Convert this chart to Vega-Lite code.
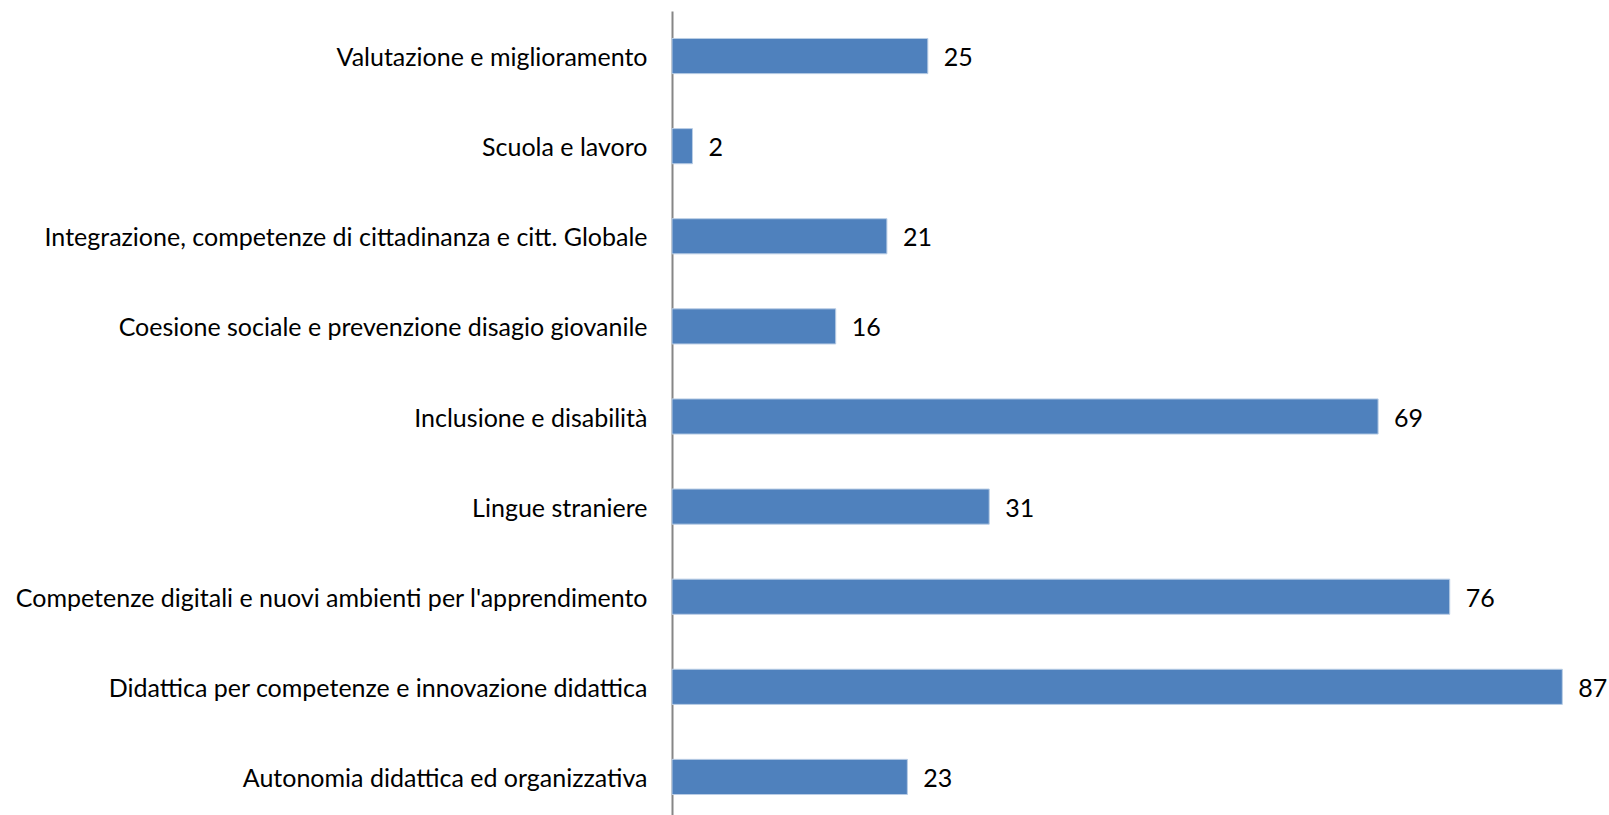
{
  "$schema": "https://vega.github.io/schema/vega-lite/v6.json",
  "autosize": {"type": "none"},
  "width": 921,
  "height": 811,
  "padding": {"left": 672, "top": 11, "right": 16, "bottom": 0},
  "background": "white",
  "config": {"view": {"stroke": null}, "font": "Lato"},
  "data": {
    "values": [
      {"categoria": "Valutazione e miglioramento", "valore": 25},
      {"categoria": "Scuola e lavoro", "valore": 2},
      {"categoria": "Integrazione, competenze di cittadinanza e citt. Globale", "valore": 21},
      {"categoria": "Coesione sociale e prevenzione disagio giovanile", "valore": 16},
      {"categoria": "Inclusione e disabilità", "valore": 69},
      {"categoria": "Lingue straniere", "valore": 31},
      {"categoria": "Competenze digitali e nuovi ambienti per l'apprendimento", "valore": 76},
      {"categoria": "Didattica per competenze e innovazione didattica", "valore": 87},
      {"categoria": "Autonomia didattica ed organizzativa", "valore": 23}
    ]
  },
  "encoding": {
    "y": {
      "field": "categoria",
      "type": "nominal",
      "sort": null,
      "scale": {"paddingInner": 0.61, "paddingOuter": 0.305},
      "axis": {
        "title": null,
        "ticks": false,
        "domainColor": "#868686",
        "domainWidth": 2,
        "labelFontSize": 25,
        "labelFont": "Lato",
        "labelColor": "#000000",
        "labelPadding": 25,
        "labelOffset": 2,
        "labelLimit": 0
      }
    },
    "x": {
      "field": "valore",
      "type": "quantitative",
      "scale": {"domain": [0, 90], "nice": false},
      "axis": null
    }
  },
  "layer": [
    {"mark": {"type": "bar", "color": "#4F81BD", "stroke": "#B9CDE5", "strokeWidth": 1}},
    {
      "mark": {"type": "text", "align": "left", "baseline": "middle", "dx": 16, "dy": 2, "fontSize": 25, "font": "Lato", "color": "#000000"},
      "encoding": {"text": {"field": "valore", "type": "quantitative"}}
    }
  ]
}
